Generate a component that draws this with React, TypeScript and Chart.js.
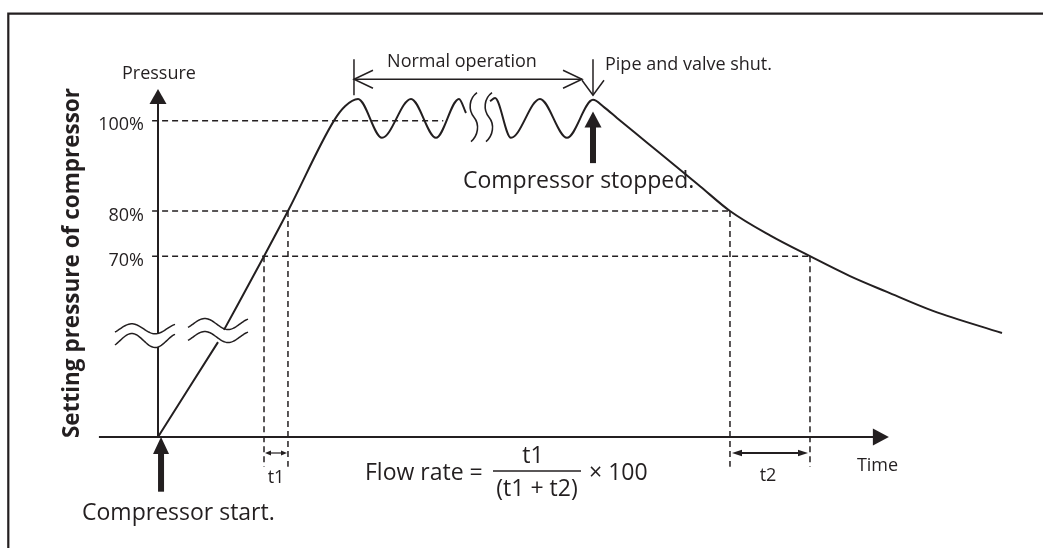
import React, { useEffect, useRef } from "react";
import { Chart, registerables } from "chart.js";

Chart.register(...registerables);

const INK = "#231f20";
const FONT = '"Open Sans", "Noto Sans", sans-serif';

// Pressure curve: time (arbitrary units) vs pressure (% of setting pressure).
// null marks the drawn breaks (axis break and "normal operation" break).
const curveTime = [
  0, 7.11, 7.5, 7.82, 12.56, 15.4, 20.85, 22.16,
  23.7, 26.54, 29.98, 32.94, 35.66, 36.49,
  38.0, 39.34, 39.93, 41.82, 45.26, 48.46, 51.54,
  52.84, 54.38, 56.52, 59.48, 64.22, 67.77,
  72.51, 77.25, 81.99, 86.37, 91.82, 100,
];
const curvePressure = [
  30, 51.0, null, 53.7, 70, 80, 100, 103.2,
  104.8, 96.2, 104.8, 96.2, 104.8, 101.7,
  null, 104.3, 105.0, 96.2, 104.8, 96.2, 104.6,
  103.0, 100.6, 97.3, 92.8, 85.5, 80,
  74.6, 70, 65.6, 62.1, 57.9, 53.0,
];

// Reference levels (dashed) and their labels
const levelValues = [100, 80, 70];
const levelLabels = ["100%", "80%", "70%"];
const levelLineStart = -0.7;
const levelLineEnds = [33.8, 67.77, 77.25];

// Interval markers
const t1Bounds = [12.56, 15.4];
const t1Levels = [70, 80];
const t2Bounds = [67.77, 77.25];
const t2Levels = [80, 70];
const dropLevel = 23.4;

// Axis extents
const axisMin = 30;
const axisMax = 107;
const xAxisStart = -7;
const xAxisTip = 86.6;
const timeMax = 100;

// Annotations
const normalOpRange = [23.22, 50.24];
const normalOpLevel = 109.15;
const stopTime = 51.54;
const stopArrowLevels = [102.0, 90.6];
const startTime = 0.36;
const startArrowLevels = [30, 17.9];
const axisBreakLevel = 52.5;

const texts = {
  yTitle: "Setting pressure of compressor",
  yName: "Pressure",
  xName: "Time",
  normal: "Normal operation",
  shut: "Pipe and valve shut.",
  stopped: "Compressor stopped.",
  start: "Compressor start.",
  t1: "t1",
  t2: "t2",
  flowLeft: "Flow rate =",
  flowNum: "t1",
  flowDen: "(t1 + t2)",
  flowRight: "\u00d7 100",
};

function line(ctx: CanvasRenderingContext2D, x1: number, y1: number, x2: number, y2: number) {
  ctx.beginPath();
  ctx.moveTo(x1, y1);
  ctx.lineTo(x2, y2);
  ctx.stroke();
}

function tri(ctx: CanvasRenderingContext2D, pts: number[][]) {
  ctx.beginPath();
  ctx.moveTo(pts[0][0], pts[0][1]);
  for (let i = 1; i < pts.length; i++) ctx.lineTo(pts[i][0], pts[i][1]);
  ctx.closePath();
  ctx.fill();
}

function tildeY(s: number, cy: number, amp: number) {
  return cy - amp * Math.sin((2 * Math.PI * (s - 0.085)) / 0.78);
}

function tilde(ctx: CanvasRenderingContext2D, xStart: number, width: number, cy: number, amp: number) {
  ctx.beginPath();
  for (let i = 0; i <= 48; i++) {
    const s = i / 48;
    const x = xStart + s * width;
    const y = tildeY(s, cy, amp);
    if (i === 0) ctx.moveTo(x, y);
    else ctx.lineTo(x, y);
  }
  ctx.stroke();
}

function sBreak(ctx: CanvasRenderingContext2D, cx: number, top: number, bottom: number) {
  const h = bottom - top;
  ctx.beginPath();
  ctx.moveTo(cx + 3, top);
  ctx.bezierCurveTo(cx - 5, top + h * 0.12, cx - 6, top + h * 0.35, cx, top + h * 0.5);
  ctx.bezierCurveTo(cx + 6, top + h * 0.65, cx + 4, top + h * 0.88, cx - 3, bottom);
  ctx.stroke();
}

function doubleArrow(ctx: CanvasRenderingContext2D, x1: number, x2: number, y: number, len: number, half: number) {
  line(ctx, x1 + len * 0.5, y, x2 - len * 0.5, y);
  tri(ctx, [[x1, y], [x1 + len, y - half], [x1 + len, y + half]]);
  tri(ctx, [[x2, y], [x2 - len, y - half], [x2 - len, y + half]]);
}

const diagramPlugin = {
  id: "diagram",
  afterDatasetsDraw(chart: any) {
    const ctx: CanvasRenderingContext2D = chart.ctx;
    const xs = chart.scales.x;
    const ys = chart.scales.y;
    const X = (t: number) => xs.getPixelForValue(t);
    const Y = (v: number) => ys.getPixelForValue(v);
    const area = chart.chartArea;

    ctx.save();
    ctx.strokeStyle = INK;
    ctx.fillStyle = INK;
    ctx.lineCap = "butt";

    // frame
    ctx.lineWidth = 2.2;
    ctx.beginPath();
    ctx.moveTo(8.3, chart.height);
    ctx.lineTo(8.3, 13.7);
    ctx.lineTo(chart.width, 13.7);
    ctx.stroke();

    const x0 = X(0);
    const yb = Y(axisMin);

    // x axis with arrow
    ctx.lineWidth = 2;
    const xTip = X(xAxisTip);
    line(ctx, X(xAxisStart), yb, xTip - 10, yb);
    tri(ctx, [[xTip, yb], [xTip - 16, yb - 8.5], [xTip - 16, yb + 8.5]]);

    // y axis break tildes
    const by = Y(axisBreakLevel);
    const lxStart = x0 - 43;
    const sAxis = 43 / 60;
    const cyU = by - 6.5;
    const cyL = by + 5.2;
    const yTop = Y(axisMax);
    line(ctx, x0, yTop + 10, x0, tildeY(sAxis, cyU, 5));
    line(ctx, x0, tildeY(sAxis, cyL, 7), x0, yb);
    tri(ctx, [[x0, yTop], [x0 - 8.5, yTop + 15], [x0 + 8.5, yTop + 15]]);

    ctx.lineWidth = 1.5;
    tilde(ctx, lxStart, 60, cyU, 5);
    tilde(ctx, lxStart, 60, cyL, 7);

    // rise-line break tildes
    const g1 = curvePressure.indexOf(null);
    const mx = (X(curveTime[g1 - 1]) + X(curveTime[g1 + 1])) / 2;
    const my = (Y(curvePressure[g1 - 1] as number) + Y(curvePressure[g1 + 1] as number)) / 2;
    tilde(ctx, mx - 33, 60, my - 12, 5.5);
    tilde(ctx, mx - 33, 60, my + 1, 5.5);

    // wave break S marks
    const g2 = curvePressure.indexOf(null, g1 + 1);
    const wx = (X(curveTime[g2 - 1]) + X(curveTime[g2 + 1])) / 2;
    const y100 = Y(100);
    ctx.lineWidth = 1.6;
    sBreak(ctx, wx - 4, y100 - 28, y100 + 21);
    sBreak(ctx, wx + 11, y100 - 28, y100 + 21);

    // Normal operation arrow
    ctx.lineWidth = 1.5;
    const ny = Y(normalOpLevel);
    const nx1 = X(normalOpRange[0]);
    const nx2 = X(normalOpRange[1]);
    line(ctx, nx1, ny, nx2, ny);
    line(ctx, nx1, ny - 20, nx1, ny + 16);
    ctx.beginPath();
    ctx.moveTo(nx1 + 19, ny - 9);
    ctx.lineTo(nx1, ny);
    ctx.lineTo(nx1 + 19, ny + 9);
    ctx.stroke();
    ctx.beginPath();
    ctx.moveTo(nx2 - 19, ny - 9);
    ctx.lineTo(nx2, ny);
    ctx.lineTo(nx2 - 19, ny + 9);
    ctx.stroke();

    // Pipe and valve shut arrow
    const sx = X(stopTime);
    const shutTip = ny + 16;
    line(ctx, sx, ny - 20, sx, shutTip);
    ctx.beginPath();
    ctx.moveTo(sx - 11, shutTip - 15);
    ctx.lineTo(sx, shutTip);
    ctx.lineTo(sx + 11, shutTip - 15);
    ctx.stroke();

    // Compressor stopped bold arrow
    const stTip = Y(stopArrowLevels[0]);
    const stEnd = Y(stopArrowLevels[1]);
    ctx.fillRect(sx - 3, stTip + 12, 6, stEnd - stTip - 12);
    tri(ctx, [[sx, stTip], [sx - 8.5, stTip + 16], [sx + 8.5, stTip + 16]]);

    // Compressor start bold arrow
    const ax = X(startTime);
    const aTip = Y(startArrowLevels[0]);
    const aEnd = Y(startArrowLevels[1]);
    ctx.fillRect(ax - 3, aTip + 14, 6, aEnd - aTip - 14);
    tri(ctx, [[ax, aTip], [ax - 8, aTip + 17], [ax + 8, aTip + 17]]);

    // t1 / t2 arrows
    const ty = yb + 16;
    ctx.lineWidth = 1.2;
    doubleArrow(ctx, X(t1Bounds[0]) + 1, X(t1Bounds[1]) - 1, ty, 6, 2.5);
    ctx.lineWidth = 1.8;
    doubleArrow(ctx, X(t2Bounds[0]) + 2, X(t2Bounds[1]) - 2, ty, 10, 3.2);

    // Texts
    ctx.textBaseline = "alphabetic";
    ctx.font = `18px ${FONT}`;
    ctx.textAlign = "left";
    ctx.fillText(texts.yName, x0 - 36, yTop - 10);
    ctx.textAlign = "right";
    levelValues.forEach((v, i) => ctx.fillText(levelLabels[i], x0 - 14, Y(v) + 9.5));
    ctx.textAlign = "center";
    ctx.fillText(texts.normal, (nx1 + nx2) / 2 - 6, ny - 12);
    ctx.textAlign = "left";
    ctx.fillText(texts.shut, sx + 12, ny - 9);
    ctx.fillText(texts.xName, xTip - 32, yb + 34);
    ctx.textAlign = "center";
    ctx.fillText(texts.t1, (X(t1Bounds[0]) + X(t1Bounds[1])) / 2, yb + 46);
    ctx.fillText(texts.t2, (X(t2Bounds[0]) + X(t2Bounds[1])) / 2 - 2, yb + 44);

    ctx.font = `23px ${FONT}`;
    ctx.textAlign = "left";
    ctx.fillText(texts.stopped, sx - 130, stEnd + 25);
    ctx.fillText(texts.start, ax - 79, aEnd + 28);

    // Formula
    const fy = yb + 34;
    ctx.fillText(texts.flowLeft, 365, yb + 43);
    ctx.lineWidth = 1.5;
    line(ctx, 493, fy, 581, fy);
    ctx.textAlign = "center";
    ctx.fillText(texts.flowNum, 533, fy - 8);
    ctx.fillText(texts.flowDen, 537, fy + 25);
    ctx.textAlign = "left";
    ctx.fillText(texts.flowRight, 589, yb + 43);

    // Y title
    ctx.save();
    ctx.translate(x0 - 85, (area.top + area.bottom) / 2);
    ctx.rotate(-Math.PI / 2);
    ctx.font = `bold 22.5px ${FONT}`;
    ctx.textAlign = "center";
    ctx.textBaseline = "middle";
    ctx.fillText(texts.yTitle, 0, 0);
    ctx.restore();

    ctx.restore();
  },
};

export default function App() {
  const ref = useRef<HTMLCanvasElement | null>(null);

  useEffect(() => {
    document.body.style.margin = "0";
    const canvas = ref.current;
    if (!canvas) return;

    const dash = [6, 4];
    const dashed = (pts: { x: number; y: number }[]) => ({
      data: pts,
      borderColor: INK,
      borderWidth: 1.5,
      borderDash: dash,
      pointRadius: 0,
      tension: 0,
      fill: false,
      clip: false as any,
    });

    const datasets: any[] = [
      {
        data: curveTime.map((t, i) => ({ x: t, y: curvePressure[i] })),
        borderColor: INK,
        borderWidth: 2,
        pointRadius: 0,
        cubicInterpolationMode: "monotone",
        spanGaps: false,
        fill: false,
        clip: false,
      },
      ...levelValues.map((v, i) =>
        dashed([
          { x: levelLineStart, y: v },
          { x: levelLineEnds[i], y: v },
        ])
      ),
      ...t1Bounds.map((t, i) =>
        dashed([
          { x: t, y: t1Levels[i] },
          { x: t, y: dropLevel },
        ])
      ),
      ...t2Bounds.map((t, i) =>
        dashed([
          { x: t, y: t2Levels[i] },
          { x: t, y: dropLevel },
        ])
      ),
    ];

    const chart = new Chart(canvas, {
      type: "line",
      data: { datasets },
      options: {
        animation: false,
        responsive: false,
        devicePixelRatio: 1,
        layout: { padding: { left: 158, right: 41, top: 89, bottom: 111 } },
        plugins: { legend: { display: false }, tooltip: { enabled: false }, title: { display: false } },
        scales: {
          x: { type: "linear", min: 0, max: timeMax, display: false },
          y: { type: "linear", min: axisMin, max: axisMax, display: false },
        },
      },
      plugins: [diagramPlugin],
    } as any);

    return () => chart.destroy();
  }, []);

  return <canvas ref={ref} width={1043} height={548} style={{ display: "block" }} />;
}
